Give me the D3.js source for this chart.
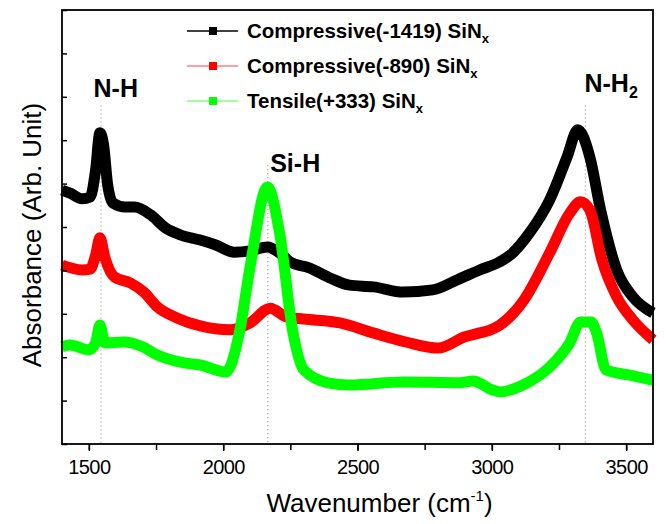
<!DOCTYPE html>
<html>
<head>
<meta charset="utf-8">
<script src="https://cdn.jsdelivr.net/npm/d3@7"></script>
<style>
    body { margin: 0; background: #fff; }
    text { font-family: Arial, "Liberation Sans", sans-serif; fill: #000; }
</style>
</head>
<body>
<svg id="chart" width="666" height="524"></svg>
<script>

// FTIR spectra: [wavenumber (cm-1), absorbance (arb.)]
const compressive1419 = [
    [1400,5.85],[1430,5.78],[1475,5.65],[1505,5.69],[1525,6.31],[1541,7.17],[1555,6.89],
    [1570,5.97],[1590,5.55],[1635,5.46],[1670,5.46],[1730,5.28],[1785,4.98],[1840,4.82],
    [1915,4.70],[1970,4.59],[2040,4.42],[2100,4.45],[2165,4.54],[2210,4.40],[2250,4.19],
    [2320,4.06],[2400,3.82],[2470,3.66],[2560,3.62],[2670,3.50],[2780,3.55],[2870,3.78],
    [2955,4.01],[3030,4.20],[3070,4.36],[3140,4.86],[3215,5.62],[3280,6.61],[3320,7.24],
    [3365,6.61],[3405,5.39],[3465,4.01],[3525,3.39],[3600,3.02]
];
const compressive890 = [
    [1400,4.12],[1475,4.01],[1505,4.03],[1525,4.35],[1541,4.75],[1560,4.29],[1595,3.85],
    [1655,3.71],[1705,3.50],[1755,3.16],[1830,2.90],[1915,2.72],[2025,2.63],[2100,2.79],
    [2175,3.13],[2235,2.93],[2300,2.88],[2435,2.79],[2558,2.56],[2680,2.35],[2800,2.21],
    [2900,2.47],[2955,2.56],[2995,2.63],[3030,2.74],[3120,3.32],[3215,4.40],[3290,5.32],
    [3330,5.58],[3365,5.39],[3410,4.24],[3465,3.39],[3525,2.86],[3600,2.40]
];
const tensile333 = [
    [1400,2.24],[1430,2.28],[1500,2.17],[1525,2.33],[1541,2.74],[1560,2.33],[1630,2.35],
    [1700,2.24],[1755,2.05],[1855,1.87],[1915,1.82],[2010,1.66],[2060,2.56],[2100,4.08],
    [2165,5.92],[2210,4.86],[2260,2.56],[2300,1.71],[2390,1.41],[2470,1.36],[2670,1.43],
    [2880,1.41],[2930,1.45],[3000,1.25],[3030,1.20],[3116,1.36],[3215,1.77],[3290,2.33],
    [3330,2.81],[3370,2.81],[3390,2.56],[3425,1.71],[3510,1.59],[3600,1.47]
];

const seriesNames = ['Compressive(-1419) SiN', 'Compressive(-890) SiN', 'Tensile(+333) SiN'];
const seriesData = [compressive1419, compressive890, tensile333];
const seriesColors = ['#000000', '#ff0000', '#00ff00'];
const legendLineColors = ['#000000', '#ff8080', '#80ff80'];

// peak assignments: wavenumber and where the dotted marker line stops (absorbance units)
const peakNames = ['N-H', 'Si-H', 'N-H'];
const peakSubs = ['', '', '2'];
const peakWavenumbers = [1545, 2166, 3348];
const peakLineTops = [7.8, 6.43, 7.8];

const xTicks = [1500, 2000, 2500, 3000, 3500];
const xDomain = [1400, 3600];
const yDomain = [0, 10];

// layout (plot box in pixels)
let svg = d3.select('#chart');
let boxLeft = 62, boxTop = 10, boxRight = 653, boxBottom = 444;

let x = d3.scaleLinear().domain(xDomain).range([boxLeft, boxRight]);
let y = d3.scaleLinear().domain(yDomain).range([boxBottom, boxTop]);

// dotted peak markers go underneath the curves
svg.append('g')
    .attr('id', 'markers')
    .selectAll('line')
    .data(peakWavenumbers)
    .join('line')
    .attr('x1', d => x(d)).attr('x2', d => x(d))
    .attr('y1', (d, i) => y(peakLineTops[i]))
    .attr('y2', boxBottom)
    .attr('stroke', '#999')
    .attr('stroke-width', 1)
    .attr('stroke-dasharray', '1.2,2.8');

// the spectra themselves, drawn thick like the overlapping square markers
let line = d3.line()
    .x(d => x(d[0]))
    .y(d => y(d[1]))
    .curve(d3.curveMonotoneX);

svg.append('g')
    .attr('id', 'curves')
    .selectAll('path')
    .data(seriesData)
    .join('path')
    .attr('d', line)
    .attr('fill', 'none')
    .attr('stroke', (d, i) => seriesColors[i])
    .attr('stroke-width', 11)
    .attr('stroke-linejoin', 'round');

// bottom axis with minor ticks every 250
let minor = d3.range(1500, 3600, 250);
svg.append('g')
    .attr('transform', `translate(0,${boxBottom})`)
    .call(d3.axisBottom(x).tickValues(minor).tickSize(6).tickFormat(''))
    .call(g => g.select('.domain').remove())
    .selectAll('line').attr('stroke-width', 1.5);

let xAxis = svg.append('g')
    .attr('transform', `translate(0,${boxBottom})`)
    .call(d3.axisBottom(x).tickValues(xTicks).tickSize(7).tickPadding(9).tickFormat(d3.format('d')));
xAxis.select('.domain').remove();
xAxis.selectAll('line').attr('stroke-width', 1.5);
xAxis.selectAll('text')
    .attr('font-size', 20)
    .attr('font-family', 'Arial, "Liberation Sans", sans-serif')
    .attr('letter-spacing', -0.6);

// left axis, ticks point inward and carry no labels
let yAxis = svg.append('g')
    .attr('transform', `translate(${boxLeft},0)`)
    .call(d3.axisRight(y).ticks(10).tickSize(5).tickFormat(''));
yAxis.select('.domain').remove();
yAxis.selectAll('line').attr('stroke-width', 1.5);

// frame
svg.append('rect')
    .attr('x', boxLeft).attr('y', boxTop)
    .attr('width', boxRight - boxLeft).attr('height', boxBottom - boxTop)
    .attr('fill', 'none')
    .attr('stroke', '#000')
    .attr('stroke-width', 1.8);

// peak labels
let labelPos = [[1600, 'middle', 97], [2175, 'start', 172], [3345, 'start', 92]];
let peakText = svg.append('g').attr('id', 'peaks')
    .selectAll('text')
    .data(peakNames)
    .join('text')
    .attr('x', (d, i) => x(labelPos[i][0]))
    .attr('y', (d, i) => labelPos[i][2])
    .attr('text-anchor', (d, i) => labelPos[i][1])
    .attr('font-size', 25)
    .attr('font-weight', 'bold')
    .text(d => d);
peakText.append('tspan')
    .attr('dy', 6)
    .attr('font-size', 16)
    .text((d, i) => peakSubs[i]);

// legend
let legend = svg.append('g').attr('id', 'legend');
let rows = legend.selectAll('g')
    .data(seriesNames)
    .join('g')
    .attr('transform', (d, i) => `translate(187,${31 + i * 35})`);
rows.append('line')
    .attr('x1', 0).attr('x2', 51)
    .attr('stroke', (d, i) => legendLineColors[i])
    .attr('stroke-width', 1.5);
rows.append('rect')
    .attr('x', 22).attr('y', -4)
    .attr('width', 8).attr('height', 8)
    .attr('fill', (d, i) => seriesColors[i]);
let legendText = rows.append('text')
    .attr('x', 60)
    .attr('y', 7)
    .attr('font-size', 20.5)
    .attr('font-weight', 'bold')
    .text(d => d);
legendText.append('tspan')
    .attr('dy', 5)
    .attr('font-size', 13)
    .text('x');

// axis titles
let xTitle = svg.append('text')
    .attr('x', (boxLeft + boxRight) / 2 + 22)
    .attr('y', 512)
    .attr('text-anchor', 'middle')
    .attr('font-size', 26)
    .text('Wavenumber (cm');
xTitle.append('tspan').attr('dy', -11).attr('font-size', 15).text('-1');
xTitle.append('tspan').attr('dy', 11).text(')');

svg.append('text')
    .attr('transform', `translate(41,${(boxTop + boxBottom) / 2 + 8}) rotate(-90)`)
    .attr('text-anchor', 'middle')
    .attr('font-size', 26)
    .text('Absorbance (Arb. Unit)');

</script>
</body>
</html>
